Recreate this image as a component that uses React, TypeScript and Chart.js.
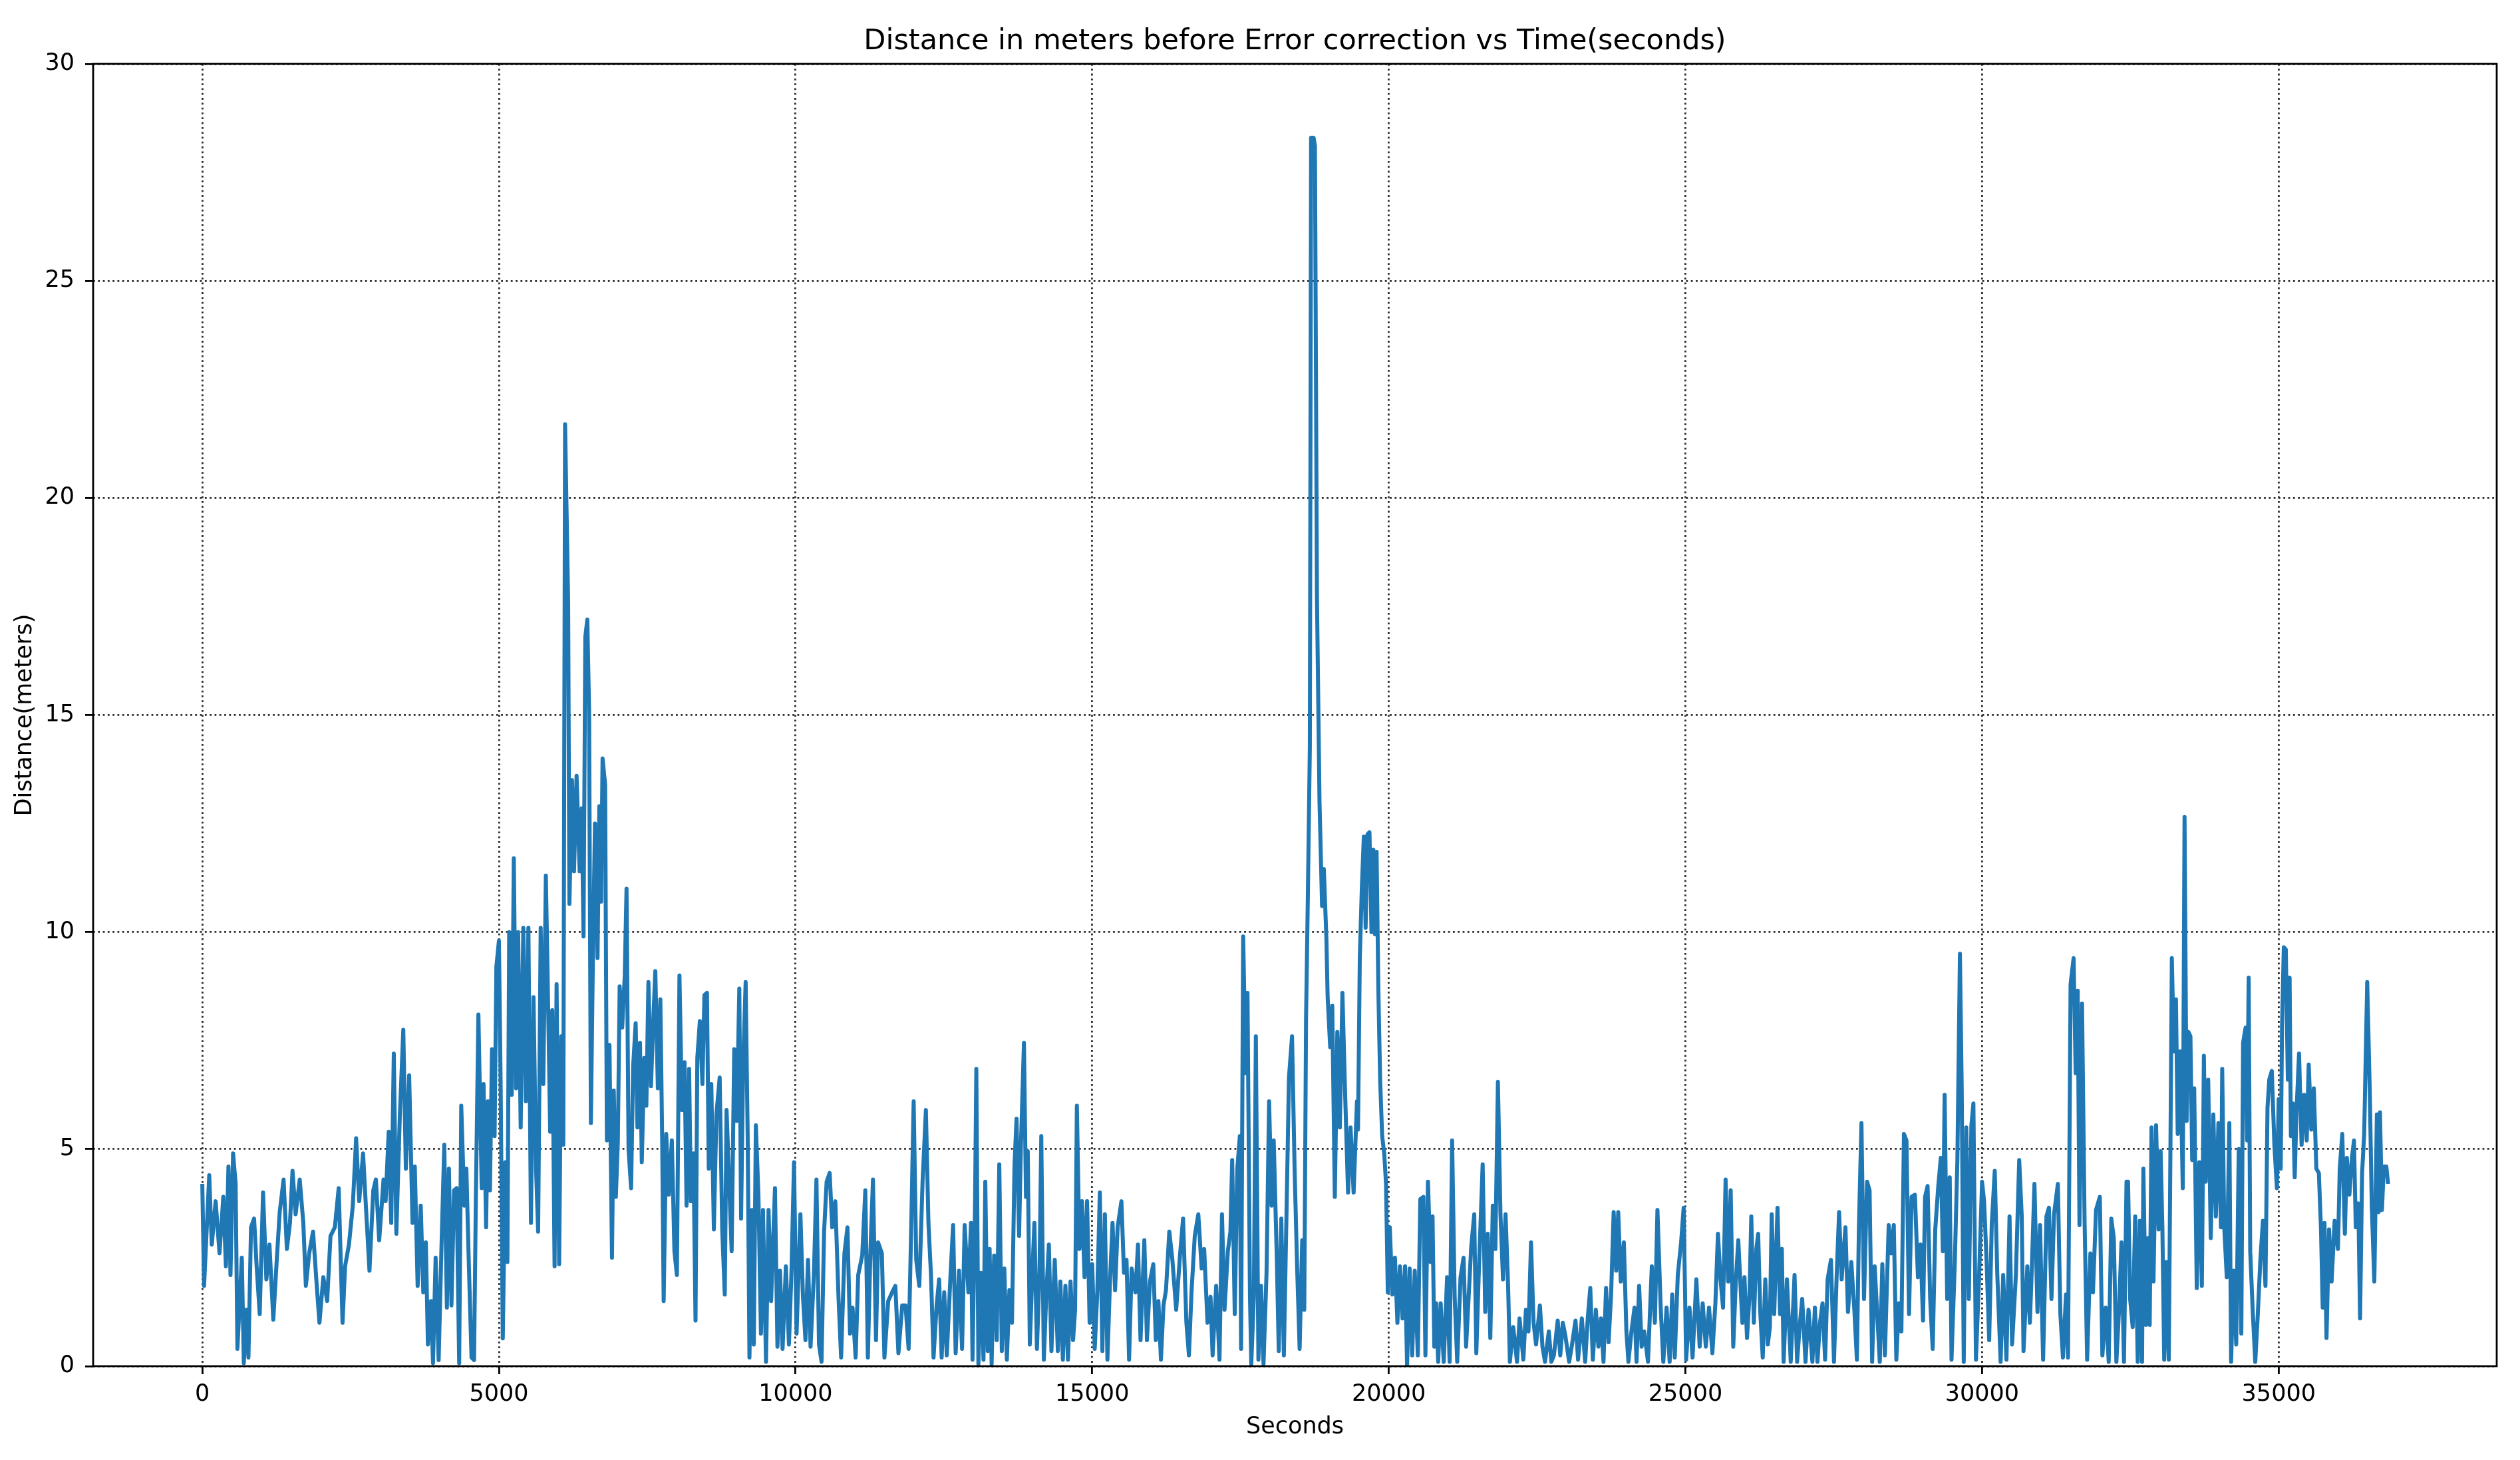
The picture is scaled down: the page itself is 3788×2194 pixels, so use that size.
import React, { useEffect, useRef } from "react";
import { Chart, registerables } from "chart.js";

Chart.register(...registerables);

const TITLE = "Distance in meters before Error correction vs Time(seconds)";
const X_LABEL = "Seconds";
const Y_LABEL = "Distance(meters)";
const X_TICKS = [0, 5000, 10000, 15000, 20000, 25000, 30000, 35000];
const Y_TICKS = [0, 5, 10, 15, 20, 25, 30];
const X_MIN = -1840;
const X_MAX = 38675;
const Y_MIN = 0;
const Y_MAX = 30;

// [seconds, meters], in six consecutive stretches
const SEG_A: [number, number][] = [
  [0, 4.2], [30, 1.85], [117, 4.4], [160, 2.8], [225, 3.8], [290, 2.6], [354, 3.9], [398, 2.3], [441, 4.6], [475, 2.1],
  [519, 4.9], [562, 4.2], [592, 0.4], [635, 1.6], [666, 2.5], [700, 0.07], [743, 1.3], [778, 0.2], [821, 3.2], [873, 3.4],
  [916, 2.3], [968, 1.2], [1024, 4.0], [1080, 2.0], [1132, 2.8], [1197, 1.07], [1253, 2.4], [1305, 3.55], [1370, 4.3], [1426, 2.7],
  [1478, 3.3], [1521, 4.5], [1573, 3.5], [1642, 4.3], [1703, 3.3], [1746, 1.85], [1802, 2.6], [1867, 3.1], [1932, 1.8], [1975, 1.0],
  [2040, 2.05], [2105, 1.5], [2161, 3.0], [2234, 3.2], [2299, 4.1], [2364, 1.0], [2407, 2.3], [2472, 2.8], [2537, 3.7], [2593, 5.25],
  [2645, 3.8], [2710, 4.9], [2753, 3.8], [2818, 2.2], [2882, 4.05], [2926, 4.3], [2982, 2.9], [3055, 4.3], [3090, 3.8], [3142, 5.4],
  [3185, 3.3], [3228, 7.2], [3271, 3.05], [3328, 5.7], [3388, 7.75], [3431, 4.55], [3487, 6.7], [3544, 3.3], [3582, 4.6], [3630, 1.85],
  [3682, 3.7], [3725, 1.7], [3768, 2.85], [3803, 0.5], [3855, 1.5], [3889, 0.07], [3933, 2.5], [3984, 0.14], [4028, 2.55], [4079, 5.1],
  [4123, 1.35], [4157, 4.55], [4200, 1.4], [4244, 4.05], [4287, 4.1], [4330, 0.07], [4365, 6.0], [4417, 3.7], [4451, 4.55], [4494, 2.3],
  [4538, 0.2], [4581, 0.14], [4611, 3.85], [4654, 8.1], [4710, 4.1], [4741, 6.5], [4784, 3.2], [4814, 6.1], [4849, 4.05], [4883, 7.3],
  [4927, 5.3], [4957, 9.2], [5000, 9.8], [5030, 6.4], [5065, 0.64], [5108, 4.7], [5143, 2.4], [5173, 10.0], [5216, 6.25], [5251, 11.7],
  [5290, 6.4], [5324, 10.0], [5367, 5.5], [5411, 10.1], [5454, 6.1], [5497, 10.1], [5540, 3.3], [5583, 8.5], [5627, 4.5], [5661, 3.1],
  [5704, 10.1], [5748, 6.5], [5791, 11.3], [5834, 7.95], [5864, 5.4], [5899, 8.2], [5938, 2.3], [5972, 8.8], [6015, 2.35], [6050, 7.6],
  [6085, 5.1], [6115, 21.7], [6167, 17.6], [6188, 10.65], [6232, 13.5], [6266, 11.4], [6309, 13.6], [6361, 11.4], [6396, 12.85], [6426, 9.9],
];

const SEG_B: [number, number][] = [
  [6456, 16.8], [6490, 17.2], [6520, 15.1], [6550, 5.6], [6584, 9.4], [6619, 12.5], [6662, 9.4], [6692, 12.9], [6722, 10.7], [6747, 14.0],
  [6790, 13.4], [6820, 5.2], [6863, 7.4], [6906, 2.5], [6936, 6.35], [6971, 3.9], [7005, 5.2], [7035, 8.75], [7078, 7.8], [7121, 9.0],
  [7151, 11.0], [7185, 5.0], [7228, 4.1], [7262, 6.9], [7305, 7.9], [7335, 5.5], [7378, 7.45], [7408, 4.7], [7451, 7.1], [7485, 6.0],
  [7520, 8.85], [7563, 6.45], [7606, 8.1], [7636, 9.1], [7679, 6.4], [7721, 8.45], [7752, 5.2], [7777, 1.5], [7820, 5.35], [7863, 3.95],
  [7915, 5.2], [7958, 2.65], [8000, 2.1], [8043, 9.0], [8086, 5.9], [8129, 7.0], [8163, 3.7], [8206, 6.85], [8236, 3.8], [8279, 4.9],
  [8314, 1.05], [8344, 7.1], [8387, 7.95], [8430, 6.5], [8464, 8.55], [8507, 8.6], [8537, 4.55], [8580, 6.5], [8623, 3.15], [8666, 5.8],
  [8721, 6.65], [8764, 3.15], [8807, 1.65], [8837, 5.9], [8880, 4.3], [8923, 2.65], [8966, 7.3], [9009, 5.65], [9052, 8.7], [9082, 3.4],
  [9116, 6.9], [9159, 8.85], [9193, 5.3], [9223, 0.2], [9266, 3.6], [9296, 0.5], [9331, 5.55], [9374, 3.95], [9417, 0.75], [9451, 3.6],
  [9502, 0.1], [9545, 3.6], [9588, 1.5], [9653, 4.1], [9695, 0.45], [9738, 2.2], [9781, 0.4], [9837, 2.3], [9889, 0.5], [9932, 2.2],
  [9974, 4.7], [10017, 0.75], [10082, 3.5], [10125, 1.6], [10167, 0.6], [10210, 2.45], [10253, 0.45], [10309, 2.1], [10352, 4.3], [10395, 0.5],
  [10438, 0.1], [10481, 3.1], [10524, 4.25], [10575, 4.45], [10618, 3.2], [10670, 3.8], [10725, 1.55], [10768, 0.2], [10824, 2.6], [10875, 3.2],
  [10918, 0.75], [10961, 1.35], [11013, 0.2], [11056, 2.1], [11124, 2.55], [11176, 4.05], [11219, 0.2], [11262, 2.65], [11305, 4.3], [11356, 0.6],
  [11391, 2.85], [11455, 2.6], [11498, 0.2], [11562, 1.5], [11627, 1.7], [11682, 1.85], [11734, 0.3], [11798, 1.4], [11854, 1.4], [11906, 0.4],
  [11948, 3.1], [11991, 6.1], [12034, 2.45], [12086, 1.85], [12141, 4.25], [12197, 5.9], [12240, 3.3], [12283, 2.1], [12326, 0.2], [12378, 1.4],
  [12420, 2.0], [12463, 0.2], [12506, 1.7], [12549, 0.25], [12614, 2.15], [12656, 3.25], [12699, 0.3], [12755, 2.2], [12807, 0.4], [12850, 3.25],
  [12914, 1.7], [12957, 3.3],
];

const SEG_C: [number, number][] = [
  [12983, 0.15], [13026, 3.8], [13047, 6.85], [13082, 0.05], [13125, 2.15], [13168, 0.15], [13198, 4.25], [13240, 0.35], [13271, 2.7], [13305, 0.05],
  [13348, 2.55], [13391, 0.6], [13434, 4.65], [13477, 0.35], [13519, 2.25], [13562, 0.15], [13605, 1.75], [13648, 1.0], [13691, 4.65], [13725, 5.7],
  [13768, 3.0], [13798, 5.05], [13850, 7.45], [13884, 3.9], [13914, 4.95], [13949, 0.5], [13992, 2.15], [14026, 3.3], [14069, 0.4], [14112, 2.15],
  [14142, 5.3], [14185, 0.15], [14228, 1.7], [14270, 2.8], [14313, 0.35], [14369, 2.45], [14421, 0.35], [14464, 1.95], [14506, 0.15], [14549, 1.85],
  [14592, 0.15], [14635, 1.95], [14678, 0.6], [14712, 1.3], [14742, 6.0], [14785, 2.7], [14828, 3.8], [14871, 2.05], [14914, 3.8], [14957, 1.0],
  [15000, 2.35], [15043, 0.4], [15086, 1.7], [15129, 4.0], [15172, 0.35], [15214, 3.5], [15257, 0.15], [15300, 1.95], [15343, 3.3], [15386, 1.75],
  [15429, 3.2], [15493, 3.8], [15536, 2.15], [15579, 2.45], [15622, 0.15], [15665, 2.25], [15729, 1.7], [15772, 2.8], [15815, 0.6], [15879, 2.9],
  [15923, 0.6], [15974, 1.95], [16030, 2.35], [16073, 0.6], [16116, 1.5], [16159, 0.15], [16202, 1.4], [16244, 1.75], [16300, 3.1], [16352, 2.45],
  [16416, 1.3], [16480, 2.55], [16532, 3.4], [16588, 1.0], [16631, 0.25], [16674, 1.7], [16729, 3.0], [16789, 3.5], [16845, 2.25], [16888, 2.7],
  [16944, 1.0], [16995, 1.6], [17030, 0.25], [17090, 1.85], [17146, 0.15], [17188, 3.5], [17231, 1.3], [17287, 2.65], [17330, 3.1], [17360, 4.75],
  [17403, 1.2], [17446, 4.55], [17489, 5.3], [17510, 0.4], [17545, 9.9], [17588, 6.75], [17618, 8.6], [17660, 1.6], [17682, 0.05], [17725, 1.6],
  [17759, 7.6], [17802, 0.15], [17845, 1.85], [17888, 0.05], [17939, 2.15], [17982, 6.1], [18025, 3.7], [18060, 5.2], [18111, 2.55], [18145, 0.35],
  [18188, 3.4], [18231, 0.25], [18274, 3.4], [18317, 6.65], [18369, 7.6], [18412, 4.55], [18455, 2.25], [18497, 0.4], [18540, 2.9], [18575, 1.3],
  [18605, 8.0], [18635, 10.8], [18669, 14.25], [18690, 28.3], [18733, 28.3], [18755, 28.1], [18789, 17.7], [18832, 13.0], [18875, 10.6], [18905, 11.45],
  [18948, 9.85], [18969, 8.5], [19012, 7.35], [19047, 8.3], [19090, 3.9], [19132, 7.7], [19175, 5.5], [19218, 8.6], [19261, 6.4], [19313, 4.0],
  [19355, 5.5], [19407, 4.0], [19463, 6.1],
];

const SEG_D: [number, number][] = [
  [19481, 5.45], [19511, 9.4], [19545, 11.0], [19579, 12.2], [19609, 10.1], [19640, 12.25], [19674, 12.3], [19708, 10.0], [19738, 11.9], [19768, 9.95],
  [19794, 11.85], [19824, 8.65], [19854, 6.6], [19888, 5.3], [19923, 4.9], [19953, 4.2], [19983, 1.7], [20017, 3.2], [20060, 1.65], [20103, 2.5],
  [20145, 1.0], [20188, 2.3], [20231, 1.1], [20274, 2.3], [20308, 0.0], [20351, 2.25], [20394, 0.25], [20437, 2.2], [20489, 0.25], [20531, 3.85],
  [20583, 3.9], [20617, 0.25], [20660, 4.25], [20703, 2.4], [20737, 3.45], [20767, 0.45], [20797, 1.45], [20832, 0.1], [20874, 1.45], [20926, 0.1],
  [20982, 2.05], [21025, 0.1], [21067, 5.2], [21110, 1.6], [21153, 0.1], [21209, 2.05], [21260, 2.5], [21303, 0.45], [21346, 1.6], [21389, 2.75],
  [21440, 3.5], [21475, 0.3], [21518, 2.2], [21582, 4.65], [21625, 1.25], [21668, 3.05], [21711, 0.65], [21753, 3.7], [21796, 2.7], [21839, 6.55],
  [21882, 3.5], [21925, 2.0], [21968, 3.5], [22011, 1.85], [22041, 0.1], [22097, 0.9], [22161, 0.1], [22204, 1.1], [22268, 0.15], [22311, 1.3],
  [22354, 0.8], [22397, 2.85], [22440, 1.0], [22482, 0.5], [22547, 1.4], [22590, 0.45], [22633, 0.1], [22697, 0.8], [22740, 0.1], [22783, 0.25],
  [22847, 1.05], [22890, 0.25], [22933, 1.0], [22976, 0.7], [23040, 0.1], [23083, 0.45], [23147, 1.05], [23190, 0.15], [23254, 1.1], [23310, 0.1],
  [23353, 1.1], [23396, 1.8], [23439, 0.15], [23490, 1.3], [23533, 0.45], [23576, 1.1], [23619, 0.1], [23662, 1.8], [23705, 0.55], [23747, 1.65],
  [23790, 3.55], [23833, 2.2], [23867, 3.55], [23910, 1.95], [23962, 2.85], [24005, 0.8], [24039, 0.1], [24090, 0.8], [24142, 1.35], [24176, 0.1],
  [24219, 1.85], [24262, 0.45], [24305, 0.8], [24369, 0.1], [24433, 2.3], [24485, 1.0], [24528, 3.6], [24583, 1.35], [24627, 0.1], [24682, 1.35],
  [24734, 0.1], [24777, 1.65], [24820, 0.2], [24871, 2.1], [24927, 2.85], [24970, 3.65], [25012, 0.15], [25068, 1.35], [25120, 0.2], [25184, 2.0],
  [25240, 0.45], [25291, 1.45], [25343, 0.45], [25398, 1.35], [25454, 0.3], [25505, 1.45], [25548, 3.05], [25591, 2.0], [25634, 1.35], [25677, 4.3],
  [25720, 1.95], [25763, 4.05], [25806, 0.45], [25849, 1.95], [25891, 2.9], [25943, 1.45],
];

const SEG_E: [number, number][] = [
  [25960, 1.0], [25995, 2.05], [26038, 0.65], [26080, 1.65], [26110, 3.45], [26153, 1.0], [26196, 2.7], [26226, 3.05], [26261, 1.25], [26303, 0.2],
  [26346, 2.0], [26389, 0.5], [26423, 0.9], [26454, 3.5], [26496, 1.2], [26552, 3.65], [26595, 1.2], [26625, 2.7], [26655, 0.1], [26711, 2.0],
  [26775, 0.1], [26839, 2.1], [26882, 0.1], [26925, 0.9], [26968, 1.55], [27024, 0.1], [27075, 1.3], [27140, 0.1], [27182, 1.35], [27225, 0.1],
  [27268, 1.0], [27311, 1.45], [27354, 0.15], [27397, 2.0], [27453, 2.45], [27504, 0.1], [27547, 2.0], [27590, 3.55], [27633, 2.0], [27697, 3.2],
  [27740, 1.25], [27796, 2.4], [27847, 1.3], [27890, 0.15], [27924, 3.2], [27967, 5.6], [28010, 1.55], [28062, 4.25], [28104, 4.05], [28147, 0.1],
  [28190, 2.3], [28233, 1.2], [28276, 0.1], [28319, 2.35], [28362, 0.25], [28426, 3.25], [28469, 2.6], [28512, 3.25], [28555, 0.15], [28598, 1.45],
  [28640, 0.8], [28683, 5.35], [28726, 5.2], [28769, 1.2], [28812, 3.9], [28868, 3.95], [28919, 2.05], [28962, 2.8], [29005, 1.05], [29039, 3.9],
  [29082, 4.15], [29125, 1.55], [29168, 0.4], [29211, 3.15], [29262, 4.15], [29305, 4.8], [29339, 2.65], [29369, 6.25], [29412, 1.55], [29455, 4.35],
  [29485, 0.15], [29541, 2.4], [29584, 4.75], [29627, 9.5], [29657, 6.4], [29691, 0.1], [29734, 5.5], [29777, 1.55], [29820, 5.55], [29854, 6.05],
  [29897, 0.15], [29948, 2.0], [30000, 4.25], [30034, 3.8], [30077, 2.4], [30120, 0.6], [30163, 3.25], [30214, 4.5], [30257, 2.1], [30313, 0.1],
  [30356, 2.1], [30411, 0.15], [30463, 3.45], [30506, 0.5], [30570, 2.1], [30626, 4.75], [30669, 3.45], [30699, 0.35], [30763, 2.3], [30806, 1.0],
  [30840, 2.3], [30883, 4.2], [30934, 1.25], [30977, 3.25], [31029, 0.15], [31085, 3.45], [31127, 3.65], [31170, 1.55], [31213, 3.5], [31278, 4.2],
  [31320, 1.2], [31363, 0.2], [31415, 1.65], [31449, 0.2], [31492, 8.8], [31543, 9.4], [31578, 6.75], [31612, 8.65], [31642, 3.25], [31685, 8.35],
  [31728, 3.35], [31771, 0.15], [31826, 2.6], [31869, 1.7], [31921, 3.6], [31985, 3.9], [32028, 0.25], [32084, 1.35], [32135, 0.1], [32178, 3.4],
  [32221, 2.95], [32264, 0.1], [32307, 1.25], [32350, 2.85], [32392, 0.1], [32435, 4.25],
];

const SEG_F: [number, number][] = [
  [32461, 4.25], [32496, 1.55], [32539, 0.9], [32581, 3.45], [32624, 0.1], [32659, 3.35], [32697, 0.1], [32719, 4.55], [32762, 0.95], [32796, 2.95],
  [32826, 0.95], [32856, 5.5], [32890, 1.95], [32933, 5.55], [32976, 3.15], [33010, 4.95], [33040, 3.15], [33070, 0.15], [33105, 2.4], [33147, 0.15],
  [33169, 3.9], [33199, 9.4], [33233, 7.25], [33268, 8.45], [33298, 5.35], [33340, 7.25], [33383, 4.1], [33413, 12.65], [33448, 5.65], [33478, 7.7],
  [33512, 7.6], [33542, 4.75], [33576, 6.4], [33619, 1.8], [33662, 4.7], [33705, 1.85], [33739, 7.15], [33769, 4.25], [33812, 6.6], [33855, 2.95],
  [33898, 5.8], [33941, 3.45], [33984, 5.6], [34027, 3.2], [34048, 6.85], [34082, 3.2], [34125, 2.05], [34168, 5.6], [34198, 0.1], [34241, 2.2],
  [34284, 0.5], [34327, 5.0], [34370, 0.75], [34400, 7.45], [34442, 7.8], [34468, 5.2], [34494, 8.95], [34520, 2.65], [34563, 1.25], [34605, 0.1],
  [34648, 1.2], [34691, 2.45], [34734, 3.35], [34777, 1.85], [34811, 5.95], [34841, 6.6], [34884, 6.8], [34927, 5.1], [34970, 4.1], [35000, 6.15],
  [35034, 4.55], [35056, 7.8], [35086, 9.65], [35120, 9.6], [35154, 6.6], [35184, 8.95], [35206, 5.3], [35240, 6.05], [35270, 4.35], [35300, 5.85],
  [35343, 7.2], [35386, 5.1], [35429, 6.25], [35472, 5.2], [35506, 6.95], [35549, 5.45], [35592, 6.4], [35635, 4.55], [35677, 4.45], [35712, 3.2],
  [35742, 1.35], [35772, 3.3], [35806, 0.65], [35849, 3.15], [35892, 1.95], [35943, 3.35], [35999, 2.7], [36029, 4.55], [36072, 5.35], [36115, 3.05],
  [36149, 4.8], [36192, 3.95], [36235, 4.8], [36269, 5.2], [36299, 3.2], [36342, 3.75], [36372, 1.1], [36406, 4.45], [36441, 5.35], [36492, 8.85],
  [36535, 6.35], [36569, 3.7], [36612, 1.95], [36655, 5.8], [36685, 3.55], [36707, 5.85], [36741, 3.6], [36771, 4.6], [36814, 4.6], [36844, 4.2],
];

const W = 3788;
const H = 2194;
const FONT = "'DejaVu Sans', 'Liberation Sans', sans-serif";
const LINE_COLOR = "#1f77b4";

export default function App() {
  const ref = useRef<HTMLCanvasElement | null>(null);

  useEffect(() => {
    document.body.style.margin = "0";
    const canvas = ref.current;
    if (!canvas) return;
    const points = [...SEG_A, ...SEG_B, ...SEG_C, ...SEG_D, ...SEG_E, ...SEG_F].map(([x, y]) => ({ x, y }));

    const framePlugin = {
      id: "frameAndTitle",
      afterDraw(chart: any) {
        const { ctx, chartArea } = chart;
        const { left, right, top, bottom } = chartArea;
        ctx.save();
        ctx.strokeStyle = "#000";
        ctx.lineWidth = 2.8;
        ctx.setLineDash([]);
        ctx.strokeRect(left, top, right - left, bottom - top);
        ctx.fillStyle = "#000";
        ctx.font = `43px ${FONT}`;
        ctx.textAlign = "center";
        ctx.textBaseline = "alphabetic";
        ctx.fillText(TITLE, (left + right) / 2, 74);
        ctx.restore();
      },
    };

    const tickFont = { family: FONT, size: 35 };

    const chart = new Chart(canvas, {
      type: "line",
      data: {
        datasets: [
          {
            data: points,
            borderColor: LINE_COLOR,
            backgroundColor: LINE_COLOR,
            borderWidth: 6,
            pointRadius: 0,
            tension: 0,
            fill: false,
            borderJoinStyle: "round",
          },
        ],
      },
      options: {
        animation: false,
        responsive: false,
        maintainAspectRatio: false,
        devicePixelRatio: 1,
        layout: { padding: { top: 96, right: W - 3753, left: 0, bottom: 0 } },
        plugins: {
          legend: { display: false },
          tooltip: { enabled: false },
          title: { display: false },
        },
        scales: {
          x: {
            type: "linear",
            min: X_MIN,
            max: X_MAX,
            afterBuildTicks: (s: any) => {
              s.ticks = X_TICKS.map((v) => ({ value: v }));
            },
            afterFit: (s: any) => {
              s.height = H - 2053;
            },
            ticks: {
              callback: (v: any) => String(v),
              font: tickFont,
              color: "#000",
              padding: 10,
              maxRotation: 0,
              autoSkip: false,
            },
            grid: {
              color: "#2e2e2e",
              lineWidth: 2.8,
              drawTicks: true,
              tickLength: 12,
              tickWidth: 2.8,
              tickColor: "#000",
              tickBorderDash: [],
            },
            border: { display: false, dash: [2.8, 4.5] },
            title: {
              display: true,
              text: X_LABEL,
              font: tickFont,
              color: "#000",
              padding: { top: 0, bottom: 28 },
            },
          },
          y: {
            type: "linear",
            min: Y_MIN,
            max: Y_MAX,
            afterBuildTicks: (s: any) => {
              s.ticks = Y_TICKS.map((v) => ({ value: v }));
            },
            afterFit: (s: any) => {
              s.width = 140;
            },
            ticks: {
              callback: (v: any) => String(v),
              font: tickFont,
              color: "#000",
              padding: 16,
              autoSkip: false,
            },
            grid: {
              color: "#2e2e2e",
              lineWidth: 2.8,
              drawTicks: true,
              tickLength: 12,
              tickWidth: 2.8,
              tickColor: "#000",
              tickBorderDash: [],
            },
            border: { display: false, dash: [2.8, 4.5] },
            title: {
              display: true,
              text: Y_LABEL,
              font: tickFont,
              color: "#000",
              padding: { top: 17, bottom: 0 },
            },
          },
        },
      } as any,
      plugins: [framePlugin],
    });

    return () => {
      chart.destroy();
    };
  }, []);

  return (
    <div style={{ width: W, height: H, position: "relative" }}>
      <canvas ref={ref} width={W} height={H} style={{ display: "block", width: W, height: H }} />
    </div>
  );
}
